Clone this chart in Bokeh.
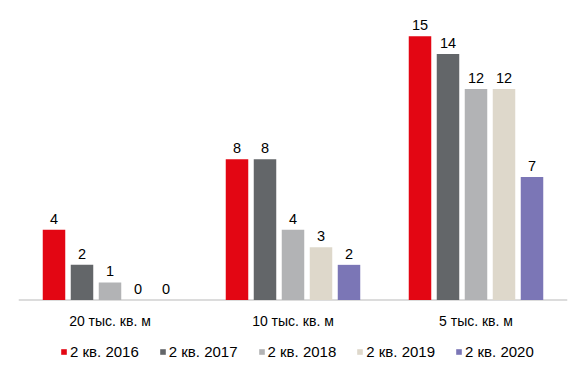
from bokeh.plotting import figure
from bokeh.models import ColumnDataSource, FactorRange, Range1d, Span, Legend, LegendItem
from bokeh.transform import dodge
from bokeh.core.properties import value
from bokeh.embed import file_html
from bokeh.resources import INLINE

categories = ["20 тыс. кв. м", "10 тыс. кв. м", "5 тыс. кв. м"]
series_names = ["2 кв. 2016", "2 кв. 2017", "2 кв. 2018", "2 кв. 2019", "2 кв. 2020"]
s2016 = [4, 8, 15]
s2017 = [2, 8, 14]
s2018 = [1, 4, 12]
s2019 = [0, 3, 12]
s2020 = [0, 2, 7]
series_values = [s2016, s2017, s2018, s2019, s2020]
colors = ["#E30613", "#636669", "#B2B3B5", "#DED8CB", "#7B76B6"]

FONT = "Liberation Sans"
PX_PER_UNIT = 17.58
H = 374
BASE = 299.5

p = figure(width=585, height=H, output_backend="svg", toolbar_location=None,
           x_range=FactorRange(*categories, range_padding=0),
           y_range=Range1d(-(H - BASE) / PX_PER_UNIT, BASE / PX_PER_UNIT),
           min_border_left=18, min_border_right=18, min_border_top=0, min_border_bottom=0)
p.axis.visible = False
p.grid.visible = False
p.outline_line_color = None
p.background_fill_color = "white"
p.border_fill_color = "white"

p.add_layout(Span(location=0, dimension="width", line_color="#DCDCDC", line_width=2, level="underlay"))

pitch = 28 / 183
bw = 22.5 / 183
items = []
for k, (name, vals, col) in enumerate(zip(series_names, series_values, colors)):
    src = ColumnDataSource(dict(cat=categories, v=vals, lbl=[str(x) for x in vals]))
    off = (k - 2) * pitch
    r = p.vbar(x=dodge("cat", off, range=p.x_range), top="v", bottom=0, width=bw,
               source=src, fill_color=col, line_color=None)
    p.text(x=dodge("cat", off, range=p.x_range), y="v", text="lbl", source=src,
           text_align="center", text_baseline="alphabetic", y_offset=-11,
           text_font=value(FONT), text_font_size="14.5px", text_color="#000000")
    items.append(LegendItem(label=name, renderers=[r]))

csrc = ColumnDataSource(dict(cat=categories, y=[-(320 - BASE) / PX_PER_UNIT] * 3))
p.text(x="cat", y="y", text="cat", source=csrc, text_align="center", text_baseline="middle",
       text_font=value(FONT), text_font_size="14px", text_color="#000000")

legend = Legend(items=items, orientation="horizontal", location=(42, 14),
                glyph_width=7, glyph_height=7, label_standoff=3, spacing=20,
                padding=0, margin=0, label_height=16,
                label_text_font=FONT, label_text_font_size="15px", label_text_color="#000000",
                border_line_color=None, background_fill_alpha=0)
p.add_layout(legend)

open("out.html", "w").write(file_html(p, INLINE))
